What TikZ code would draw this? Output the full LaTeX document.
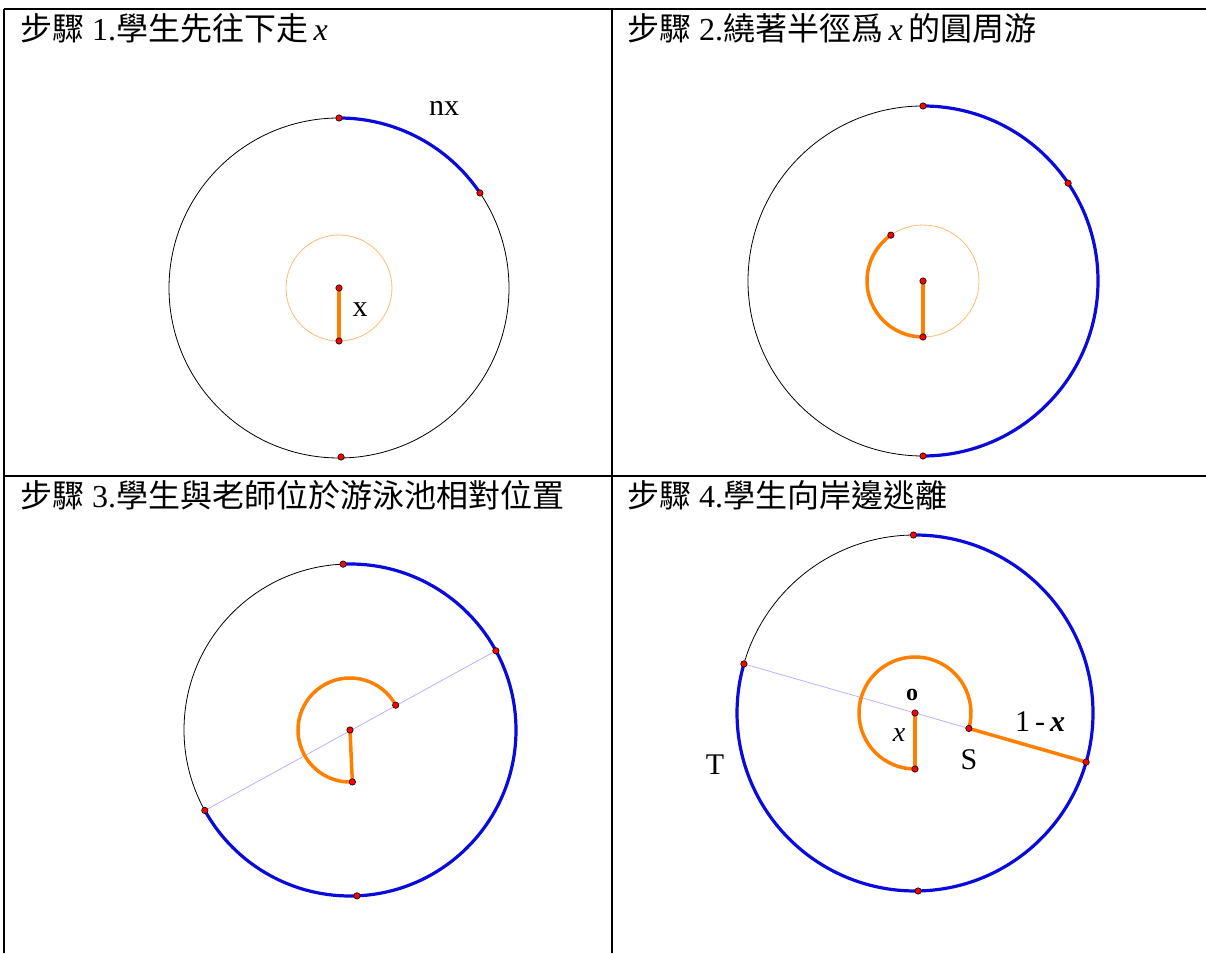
\documentclass[tikz,border=0pt]{standalone}
\usepackage{fontspec}
\setmainfont{Liberation Serif}
\newfontfamily\cjk{Noto Sans CJK TC}
\usetikzlibrary{calc}
\definecolor{lav}{RGB}{185,175,255}
\definecolor{tblue}{RGB}{10,10,220}
\newcommand{\dotat}[1]{\filldraw[red,draw=black,line width=0.6pt] #1 circle (3.2);}

\begin{document}
\begin{tikzpicture}[x=1pt,y=1pt,
  grid/.style={black,line width=2pt},
  pool/.style={black,line width=0.8pt},
  inner/.style={orange!55,line width=0.8pt},
  teacher/.style={tblue,line width=3.2pt},
  swim/.style={orange,line width=3.5pt},
  diam/.style={lav,line width=0.8pt},
  title/.style={anchor=base west,inner sep=0pt,font=\fontsize{32}{36}\selectfont},
  lab/.style={inner sep=0pt,font=\fontsize{30}{34}\selectfont}]
\useasboundingbox (0,0) rectangle (1206,953);
% table frame
\draw[grid] (4,944)--(1206,944);
\draw[grid] (4,477)--(1206,477);
\draw[grid] (4,944)--(4,0);
\draw[grid] (612,944)--(612,0);
% titles
\node[title] (t1) at (20,912) {{\cjk 步驟} 1.{\cjk 學生先往下走}\,\textit{x}};
\node[title] (t2) at (627,912) {{\cjk 步驟} 2.{\cjk 繞著半徑爲}\,\textit{x}\,{\cjk 的圓周游}};
\node[title] (t3) at (20,445) {{\cjk 步驟} 3.{\cjk 學生與老師位於游泳池相對位置}};
\node[title] (t4) at (627,445) {{\cjk 步驟} 4.{\cjk 學生向岸邊逃離}};
% step 1
\coordinate (c1) at (339,665);
\draw[pool] (c1) circle (170);
\draw[inner] (c1) circle (53);
\draw[teacher] ($(c1)+(90:170)$) arc[start angle=90,end angle=34,radius=170];
\draw[swim] (c1)--($(c1)+(270:53)$);
\foreach \p in {(c1),($(c1)+(270:53)$),($(c1)+(90:170)$),($(c1)+(-89.3:169)$),($(c1)+(34:170)$)}{\dotat{\p}}
\node[lab] (nx) at (444,845) {nx};
\node[lab] (xa) at (360,643) {x};
% step 2
\coordinate (c2) at (923,672);
\draw[pool] (c2) circle (175);
\draw[inner] (c2) circle (56);
\draw[teacher] ($(c2)+(90:175)$) arc[start angle=90,end angle=-90,radius=175];
\draw[swim] ($(c2)+(270:56)$) arc[start angle=270,end angle=125,radius=56];
\draw[swim] (c2)--($(c2)+(270:56)$);
\foreach \p in {(c2),($(c2)+(270:56)$),($(c2)+(125:56)$),($(c2)+(90:175)$),($(c2)+(34:175)$),($(c2)+(270:175)$)}{\dotat{\p}}
% step 3
\coordinate (c3) at (350,223);
\draw[pool] (c3) circle (166);
\draw[diam] ($(c3)+(209:166)$)--($(c3)+(28.5:166)$);
\draw[teacher] ($(c3)+(92.4:166)$) arc[start angle=92.4,end angle=-151,radius=166];
\draw[swim] ($(c3)+(28.5:52)$) arc[start angle=28.5,end angle=272.6,radius=52];
\draw[swim] (c3)--($(c3)+(272.6:52)$);
\foreach \p in {(c3),($(c3)+(28.5:52)$),($(c3)+(272.6:52)$),($(c3)+(92.4:166)$),($(c3)+(-87.6:166)$),($(c3)+(28.5:166)$),($(c3)+(209:166)$)}{\dotat{\p}}
% step 4
\coordinate (c4) at (915,240);
\coordinate (s) at ($(c4)+(344:56)$);
\coordinate (e) at ($(c4)+(344:178)$);
\coordinate (t) at ($(c4)+(164:178)$);
\draw[pool] (c4) circle (178);
\draw[diam] (t)--(s);
\draw[teacher] ($(c4)+(90.5:178)$) arc[start angle=90.5,end angle=-196,radius=178];
\draw[swim] ($(c4)+(270:56)$) arc[start angle=270,end angle=-16,radius=56];
\draw[swim] (c4)--($(c4)+(270:56)$);
\draw[swim] (s)--(e);
\foreach \p in {(c4),($(c4)+(270:56)$),(s),(e),(t),($(c4)+(90.5:178)$),($(c4)+(-89:178)$)}{\dotat{\p}}
\node[lab,font=\fontsize{24}{28}\selectfont\bfseries] (o) at (912,258) {o};
\node[lab,font=\fontsize{28}{32}\selectfont] (xb) at (899,218) {\textit{x}};
\node[lab] (sl) at (969,193) {S};
\node[lab] (len) at (1040,231) {1\,-\,\textbf{\textit{x}}};
\node[lab] (tl) at (715,188) {T};
\end{tikzpicture}
\end{document}
